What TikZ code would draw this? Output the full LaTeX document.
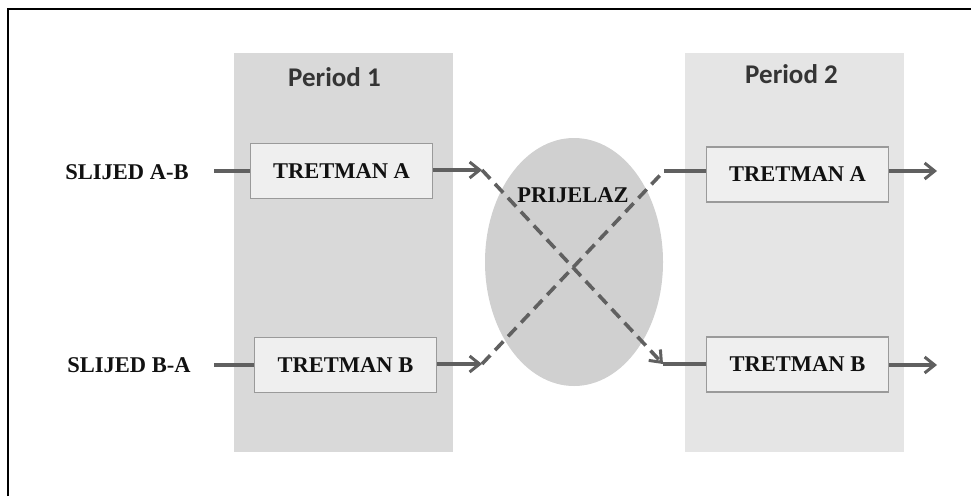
\documentclass[tikz,border=0pt]{standalone}
\usepackage{fontspec}
\setmainfont{Liberation Serif}
\newfontfamily\periodfont{Carlito}
\usetikzlibrary{arrows.meta,shapes.geometric}
\definecolor{panelone}{HTML}{D9D9D9}
\definecolor{paneltwo}{HTML}{E5E5E5}
\definecolor{ovalgray}{HTML}{D0D0D0}
\definecolor{boxfill}{HTML}{EFEFEF}
\definecolor{boxline}{HTML}{9A9A9A}
\definecolor{linegray}{HTML}{606060}
\definecolor{txt}{HTML}{111111}
\tikzset{
  treat/.style={draw=boxline, line width=1.8pt, fill=boxfill, minimum width=182pt, minimum height=55pt, inner sep=0pt,
    font=\fontsize{22.5}{26}\selectfont\bfseries, text=txt},
  seqlabel/.style={font=\fontsize{22.5}{26}\selectfont\bfseries, text=txt, inner sep=0pt},
  periodlabel/.style={font=\periodfont\bfseries\fontsize{27}{32}\selectfont, text=txt!85, inner sep=0pt, anchor=base},
  conn/.style={draw=linegray, line width=3.6pt},
  tipstyle/.style={-{Straight Barb[length=10pt,width=16pt,line width=3pt]}},
  arr/.style={conn, tipstyle},
  dashconn/.style={draw=linegray, line width=3.6pt, dash pattern=on 12pt off 7pt}
}
\begin{document}
\begin{tikzpicture}[x=1pt,y=-1pt]
\useasboundingbox (0,0) rectangle (971,496);
% frame
\draw[line width=2pt, black] (8,496) -- (8,9) -- (971,9);
% period panels
\fill[panelone] (234,53) rectangle (453,452);
\fill[paneltwo] (685,53) rectangle (904,452);
\node[periodlabel] (p1) at (334.5,86) {Period 1};
\node[periodlabel] (p2) at (791.5,83) {Period 2};
% transition oval
\node[ellipse, fill=ovalgray, minimum width=178pt, minimum height=248pt, inner sep=0pt] (trans) at (574,262) {};
% treatment boxes
\node[treat] (A1) at (341.5,171) {TRETMAN A};
\node[treat] (B1) at (345.5,365) {TRETMAN B};
\node[treat] (A2) at (797.5,174.5) {TRETMAN A};
\node[treat] (B2) at (797.5,364.5) {TRETMAN B};
% sequence labels
\node[seqlabel] (sAB) at (127,172) {SLIJED A-B};
\node[seqlabel] (sBA) at (129,365) {SLIJED B-A};
% coordinates
\coordinate (inA) at (214,171);
\coordinate (inB) at (214,365);
\coordinate (a1e) at (482,170);
\coordinate (b1e) at (482,364);
\coordinate (cA) at (663,364);
\coordinate (cB) at (664,171);
\coordinate (outA) at (937,171);
\coordinate (outB) at (937,365);
% connectors
\draw[conn] (inA) -- (A1.west |- inA);
\draw[conn] (inB) -- (B1.west |- inB);
\draw[arr] (A1.east |- a1e) -- (a1e);
\draw[arr] (B1.east |- b1e) -- (b1e);
\draw[dashconn, tipstyle] (a1e) -- (cA);
\draw[dashconn] (b1e) -- (cB);
\draw[conn] (cA) -- (B2.west |- cA);
\draw[conn] (cB) -- (A2.west |- cB);
\draw[arr] (A2.east |- outA) -- (outA);
\draw[arr] (B2.east |- outB) -- (outB);
% transition label
\node[seqlabel] (tl) at (573,195) {PRIJELAZ};
\end{tikzpicture}
\end{document}
